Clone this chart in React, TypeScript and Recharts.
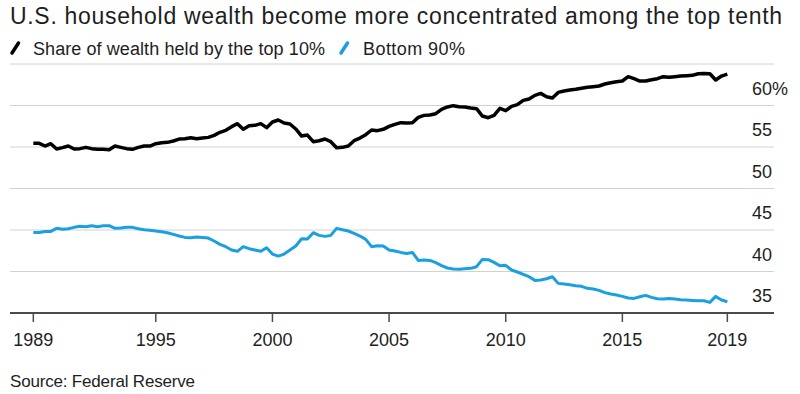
import React from "react";
import { LineChart, Line, XAxis, YAxis, CartesianGrid } from "recharts";

const TITLE = "U.S. household wealth become more concentrated among the top tenth";
const SERIES_TOP = "Share of wealth held by the top 10%";
const SERIES_BOTTOM = "Bottom 90%";
const SOURCE = "Source: Federal Reserve";

// quarterly time positions (end of quarter), 1989 Q3 .. 2019 Q2
const QUARTERS: number[] = Array.from({ length: 120 }, (_, i) => 1989.75 + i * 0.25);

const TOP10 = [
  55.44, 55.44, 55.12, 55.40, 54.76, 54.92, 55.12, 54.76, 54.80, 54.96,
  54.80, 54.72, 54.72, 54.68, 55.12, 54.96, 54.80, 54.72, 54.96, 55.12,
  55.12, 55.40, 55.52, 55.56, 55.72, 55.96, 56.00, 56.12, 56.00, 56.08,
  56.16, 56.40, 56.77, 57.01, 57.45, 57.81, 57.13, 57.57, 57.61, 57.81,
  57.33, 58.01, 58.25, 57.89, 57.77, 57.17, 56.32, 56.44, 55.64, 55.76,
  55.96, 55.64, 54.92, 54.96, 55.12, 55.76, 56.08, 56.48, 57.05, 56.97,
  57.13, 57.49, 57.73, 57.93, 57.89, 57.93, 58.57, 58.81, 58.85, 59.01,
  59.54, 59.82, 59.98, 59.86, 59.82, 59.70, 59.62, 58.73, 58.53, 58.81,
  59.66, 59.38, 59.90, 60.10, 60.62, 60.78, 61.22, 61.46, 61.06, 60.90,
  61.58, 61.75, 61.87, 61.95, 62.07, 62.19, 62.27, 62.35, 62.59, 62.75,
  62.87, 62.95, 63.47, 63.23, 62.95, 62.95, 63.11, 63.23, 63.47, 63.39,
  63.47, 63.55, 63.59, 63.63, 63.83, 63.87, 63.83, 63.07, 63.55, 63.79,
];

const BOTTOM90 = [
  44.71, 44.71, 44.83, 44.83, 45.20, 45.08, 45.16, 45.32, 45.44, 45.40,
  45.52, 45.40, 45.52, 45.52, 45.20, 45.24, 45.32, 45.32, 45.16, 45.04,
  44.96, 44.88, 44.79, 44.67, 44.47, 44.27, 44.11, 44.07, 44.15, 44.11,
  44.03, 43.67, 43.27, 42.99, 42.59, 42.43, 42.99, 42.75, 42.59, 42.43,
  42.87, 42.10, 41.86, 42.10, 42.59, 43.07, 43.95, 43.91, 44.67, 44.35,
  44.23, 44.35, 45.20, 45.04, 44.88, 44.59, 44.27, 43.87, 42.99, 43.11,
  43.07, 42.59, 42.47, 42.30, 42.18, 42.30, 41.34, 41.38, 41.34, 41.06,
  40.70, 40.42, 40.30, 40.26, 40.34, 40.38, 40.58, 41.46, 41.42, 41.10,
  40.70, 40.74, 40.18, 39.94, 39.65, 39.37, 38.93, 38.97, 39.13, 39.37,
  38.57, 38.49, 38.41, 38.29, 38.21, 37.97, 37.89, 37.73, 37.45, 37.28,
  37.16, 37.00, 36.80, 36.76, 36.96, 37.12, 36.88, 36.72, 36.68, 36.76,
  36.68, 36.60, 36.56, 36.52, 36.48, 36.48, 36.28, 37.00, 36.56, 36.36,
];

const X_TICKS = [1989.75, 1995, 2000, 2005, 2010, 2015, 2019.5];
const Y_TICKS = [35, 40, 45, 50, 55, 60];

const data = QUARTERS.map((t, i) => ({ t, top: TOP10[i], bottom: BOTTOM90[i] }));

const FONT = "'Liberation Sans', Arial, Helvetica, sans-serif";
const TEXT = "#1e1e1e";
const BLACK = "#000000";
const BLUE = "#1a9fe0";

const XTick = (props: any) => {
  const { x, y, payload } = props;
  return (
    <text x={x} y={y + 22} textAnchor="middle" fontFamily={FONT} fontSize={18} fill={TEXT}>
      {String(Math.floor(payload.value))}
    </text>
  );
};

const YTick = (props: any) => {
  const { x, y, payload } = props;
  return (
    <text x={x - 30} y={y - 11} textAnchor="start" fontFamily={FONT} fontSize={18} fill={TEXT}>
      {payload.value === 60 ? "60%" : String(payload.value)}
    </text>
  );
};

export default function App() {
  return (
    <div style={{ position: "absolute", left: 0, top: 0, width: 800, height: 394, background: "#fff" }}>
      <LineChart
        width={800}
        height={394}
        data={data}
        margin={{ top: 64, right: 0, bottom: 51, left: 10 }}
      >
        <CartesianGrid vertical={false} stroke="#d2d2d2" strokeWidth={1} />
        <XAxis
          dataKey="t"
          type="number"
          domain={[1988.75, 2021.5]}
          ticks={X_TICKS}
          interval={0}
          height={30}
          tickSize={9}
          tickLine={{ stroke: "#4a4a4a", strokeWidth: 1.5 }}
          axisLine={{ stroke: "#4a4a4a", strokeWidth: 2 }}
          tick={<XTick />}
        />
        <YAxis
          orientation="right"
          type="number"
          domain={[35, 65]}
          ticks={Y_TICKS}
          interval={0}
          width={26}
          axisLine={false}
          tickLine={false}
          tick={<YTick />}
        />
        <Line
          type="linear"
          dataKey="bottom"
          stroke={BLUE}
          strokeWidth={3}
          dot={false}
          strokeLinejoin="round"
          isAnimationActive={false}
        />
        <Line
          type="linear"
          dataKey="top"
          stroke={BLACK}
          strokeWidth={3.5}
          dot={false}
          strokeLinejoin="round"
          isAnimationActive={false}
        />
      </LineChart>
      <svg
        width={800}
        height={394}
        style={{ position: "absolute", left: 0, top: 0, pointerEvents: "none" }}
      >
        <text x={10} y={24} fontFamily={FONT} fontSize={23} fill={TEXT} textLength={772} lengthAdjust="spacing">
          {TITLE}
        </text>
        <line x1={12} y1={53} x2={18.5} y2={43} stroke={BLACK} strokeWidth={3.5} strokeLinecap="round" />
        <text x={33} y={55} fontFamily={FONT} fontSize={18} fill={TEXT} textLength={292} lengthAdjust="spacing">
          {SERIES_TOP}
        </text>
        <line x1={341} y1={53} x2={347.5} y2={43} stroke={BLUE} strokeWidth={3.5} strokeLinecap="round" />
        <text x={363} y={55} fontFamily={FONT} fontSize={18} fill={TEXT} textLength={102} lengthAdjust="spacing">
          {SERIES_BOTTOM}
        </text>
        <text x={10} y={387} fontFamily={FONT} fontSize={17} fill={TEXT} textLength={185} lengthAdjust="spacing">
          {SOURCE}
        </text>
      </svg>
    </div>
  );
}
